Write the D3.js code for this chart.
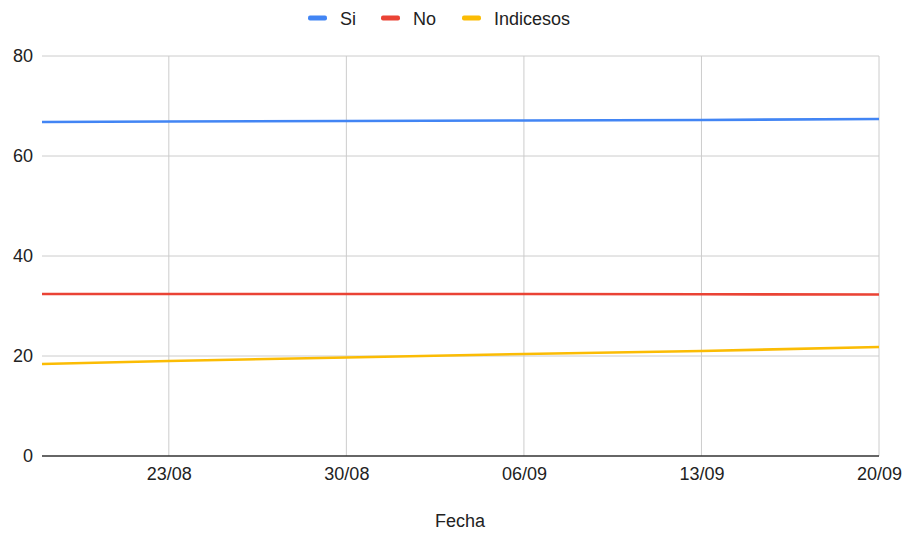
<!DOCTYPE html>
<html>
<head>
<meta charset="utf-8">
<script src="https://cdn.jsdelivr.net/npm/d3@7"></script>
<style>
  html, body { margin: 0; padding: 0; background: #fff; }
  svg { display: block; font-family: "Liberation Sans", Arial, sans-serif; }
</style>
</head>
<body>
<svg id="chart" width="907" height="533"></svg>
<script>
// Weekly readings
const fechas = ["2020-08-18", "2020-08-23", "2020-08-30", "2020-09-06", "2020-09-13", "2020-09-20"];
const si = [66.8, 66.9, 67.0, 67.1, 67.2, 67.4];
const no = [32.4, 32.4, 32.4, 32.4, 32.35, 32.3];
const indecisos = [18.4, 19.0, 19.7, 20.4, 21.0, 21.8];

const seriesNames = ["Si", "No", "Indicesos"];
const seriesColors = ["#4285F4", "#EA4335", "#FBBC04"];
const xTickDates = ["2020-08-23", "2020-08-30", "2020-09-06", "2020-09-13", "2020-09-20"];
const yTicks = [0, 20, 40, 60, 80];

const parse = d3.timeParse("%Y-%m-%d");
const fmt = d3.timeFormat("%d/%m");
const dates = fechas.map(parse);
const seriesValues = [si, no, indecisos];

const svg = d3.select("#chart");
const margin = { left: 42, right: 28, top: 56, bottom: 77 };
const width = 907, height = 533;
const fontSize = 18;

const x = d3.scaleTime()
  .domain([dates[0], dates[dates.length - 1]])
  .range([margin.left, width - margin.right]);
const y = d3.scaleLinear()
  .domain([0, 80])
  .range([height - margin.bottom, margin.top]);

// Horizontal gridlines
svg.append("g")
  .selectAll("line")
  .data(yTicks.filter(t => t > 0))
  .join("line")
  .attr("x1", margin.left).attr("x2", width - margin.right)
  .attr("y1", d => y(d)).attr("y2", d => y(d))
  .attr("stroke", "#cccccc").attr("stroke-width", 1);

// Vertical gridlines
svg.append("g")
  .selectAll("line")
  .data(xTickDates.map(parse))
  .join("line")
  .attr("x1", d => x(d)).attr("x2", d => x(d))
  .attr("y1", y(80)).attr("y2", y(0))
  .attr("stroke", "#cccccc").attr("stroke-width", 1);

// Y axis labels
const yAxis = d3.axisLeft(y).tickValues(yTicks).tickSize(0).tickPadding(9);
svg.append("g")
  .attr("transform", `translate(${margin.left},0)`)
  .call(yAxis)
  .call(g => g.select(".domain").remove())
  .call(g => g.selectAll("text")
    .attr("font-size", fontSize).attr("fill", "#222").attr("font-family", "Liberation Sans, Arial, sans-serif"));

// X axis labels
const xAxis = d3.axisBottom(x).tickValues(xTickDates.map(parse)).tickFormat(fmt).tickSize(0).tickPadding(11);
svg.append("g")
  .attr("transform", `translate(0,${y(0)})`)
  .call(xAxis)
  .call(g => g.select(".domain").remove())
  .call(g => g.selectAll("text")
    .attr("font-size", fontSize).attr("fill", "#222").attr("font-family", "Liberation Sans, Arial, sans-serif"));

// Baseline
svg.append("line")
  .attr("x1", margin.left).attr("x2", width - margin.right)
  .attr("y1", y(0)).attr("y2", y(0))
  .attr("stroke", "#333").attr("stroke-width", 1.3);

// Series lines
const line = d3.line().x((d, i) => x(dates[i])).y(d => y(d));
svg.append("g")
  .selectAll("path")
  .data(seriesValues)
  .join("path")
  .attr("d", d => line(d))
  .attr("fill", "none")
  .attr("stroke", (d, i) => seriesColors[i])
  .attr("stroke-width", 2.6)
  .attr("stroke-linejoin", "round");

// Axis title
svg.append("text")
  .attr("x", 460).attr("y", 527)
  .attr("text-anchor", "middle")
  .attr("font-size", fontSize).attr("fill", "#222")
  .text("Fecha");

// Legend
const legendX = [308, 381, 462];
const legend = svg.append("g");
seriesNames.forEach((name, i) => {
  legend.append("rect")
    .attr("x", legendX[i]).attr("y", 15.5)
    .attr("width", 19).attr("height", 5).attr("rx", 2)
    .attr("fill", seriesColors[i]);
  legend.append("text")
    .attr("x", legendX[i] + 32).attr("y", 24.5)
    .attr("font-size", fontSize).attr("fill", "#222")
    .text(name);
});
</script>
</body>
</html>
